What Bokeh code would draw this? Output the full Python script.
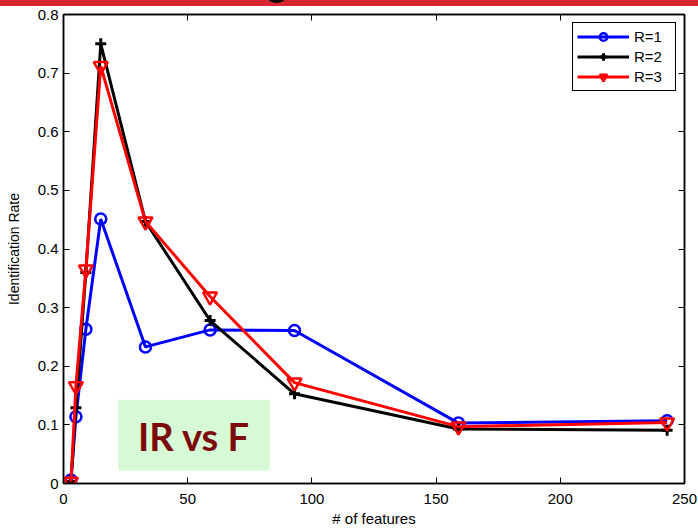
from bokeh.plotting import figure
from bokeh.layouts import column
from bokeh.models import (LinearAxis, FixedTicker, PrintfTickFormatter,
                          BoxAnnotation, Label, Range1d, Div)
from bokeh.embed import file_html
from bokeh.resources import INLINE

# ---- data ----
features = [3, 5, 9, 15, 33, 59, 93, 159, 243]
r1 = [0.006, 0.114, 0.263, 0.451, 0.233, 0.262, 0.261, 0.103, 0.107]
r2 = [0.004, 0.129, 0.360, 0.750, 0.447, 0.278, 0.153, 0.093, 0.091]
r3 = [0.003, 0.166, 0.365, 0.712, 0.447, 0.319, 0.172, 0.097, 0.104]
series_labels = ["R=1", "R=2", "R=3"]
x_ticks = [0, 50, 100, 150, 200, 250]
y_ticks = [0, 0.1, 0.2, 0.3, 0.4, 0.5, 0.6, 0.7, 0.8]
annotation_text = "IR vs F"

FONT = "Liberation Sans"

# red slide banner strip at the very top (cropped in the reference)
banner = Div(text='<div style="position:absolute;left:268px;top:-7px;width:17px;'
                  'height:10px;border-radius:50%;background:#000;"></div>',
             width=698, height=6, margin=0,
             styles={"background-color": "#da2630", "overflow": "hidden",
                     "position": "relative"})

p = figure(width=698, height=523, output_backend="svg", toolbar_location=None,
           x_range=Range1d(0, 250), y_range=Range1d(0, 0.8),
           min_border_left=63, min_border_right=14, min_border_top=8,
           min_border_bottom=44, margin=0)
p.xgrid.visible = False
p.ygrid.visible = False
p.outline_line_color = "black"
p.outline_line_width = 1.5
p.outline_line_alpha = 1.0
p.background_fill_color = "white"
p.border_fill_color = "white"

xt = FixedTicker(ticks=x_ticks, minor_ticks=[])
yt = FixedTicker(ticks=y_ticks, minor_ticks=[])

for ax in p.xaxis:
    ax.ticker = xt
for ax in p.yaxis:
    ax.ticker = yt
    ax.formatter = PrintfTickFormatter(format="%g")

for ax in list(p.xaxis) + list(p.yaxis):
    ax.major_tick_in = 6
    ax.major_tick_out = 0
    ax.minor_tick_in = 0
    ax.minor_tick_out = 0
    ax.axis_line_width = 1.5
    ax.major_tick_line_width = 1
    ax.major_label_text_font = FONT
    ax.major_label_text_font_size = "15px"
    ax.major_label_text_color = "black"
    ax.axis_label_text_font = FONT
    ax.axis_label_text_font_style = "normal"
    ax.axis_label_text_color = "black"

p.xaxis.axis_label = "# of features"
p.xaxis.axis_label_text_font_size = "15px"
p.xaxis.major_label_standoff = 10
p.xaxis.axis_label_standoff = 3
p.yaxis.axis_label = "Identification Rate"
p.yaxis.axis_label_text_font_size = "14px"
p.yaxis.major_label_standoff = 5
p.yaxis.axis_label_standoff = 13

# mirrored tick axes (top and right), without labels
top = LinearAxis(ticker=xt, major_tick_in=6, major_tick_out=0,
                 minor_tick_in=0, minor_tick_out=0, axis_line_width=1.5,
                 major_label_overrides={t: "" for t in x_ticks},
                 major_label_text_font_size="1px", major_label_standoff=0)
right = LinearAxis(ticker=yt, major_tick_in=6, major_tick_out=0,
                   minor_tick_in=0, minor_tick_out=0, axis_line_width=1.5,
                   major_label_overrides={t: "" for t in y_ticks},
                   major_label_text_font_size="1px", major_label_standoff=0)
p.add_layout(top, "above")
p.add_layout(right, "right")

# green annotation box and text
p.add_layout(BoxAnnotation(left=22, right=83, bottom=0.022, top=0.143,
                           fill_color="#d6f9d6", fill_alpha=1.0,
                           line_color=None, level="underlay"))
p.add_layout(Label(x=52.5, y=0.081, text=annotation_text, text_align="center",
                   text_baseline="middle", text_font="Lato",
                   text_font_style="bold", text_font_size="38px",
                   text_color="#7d0a0a"))

# series
p.line(features, r1, line_color="#0000ff", line_width=3, legend_label=series_labels[0])
p.scatter(features, r1, marker="circle", size=11, fill_color=None,
          line_color="#0000ff", line_width=2.5, legend_label=series_labels[0])
p.line(features, r2, line_color="black", line_width=3, legend_label=series_labels[1])
p.scatter(features, r2, marker="cross", size=11, line_color="black",
          line_width=3, legend_label=series_labels[1])
p.line(features, r3, line_color="#ff0000", line_width=3, legend_label=series_labels[2])
p.scatter(features, r3, marker="inverted_triangle", size=14, fill_color=None,
          line_color="#ff0000", line_width=2.5, legend_label=series_labels[2])

lg = p.legend[0]
lg.location = "top_right"
lg.margin = 8
lg.padding = 4
lg.spacing = 1
lg.glyph_width = 52
lg.glyph_height = 19
lg.label_height = 19
lg.label_width = 37
lg.label_standoff = 5
lg.label_text_font = FONT
lg.label_text_font_size = "15px"
lg.label_text_color = "black"
lg.border_line_color = "black"
lg.border_line_width = 1
lg.border_line_alpha = 1.0
lg.background_fill_alpha = 1.0

layout = column(banner, p, spacing=0, margin=0)
open("out.html", "w").write(file_html(layout, INLINE))
